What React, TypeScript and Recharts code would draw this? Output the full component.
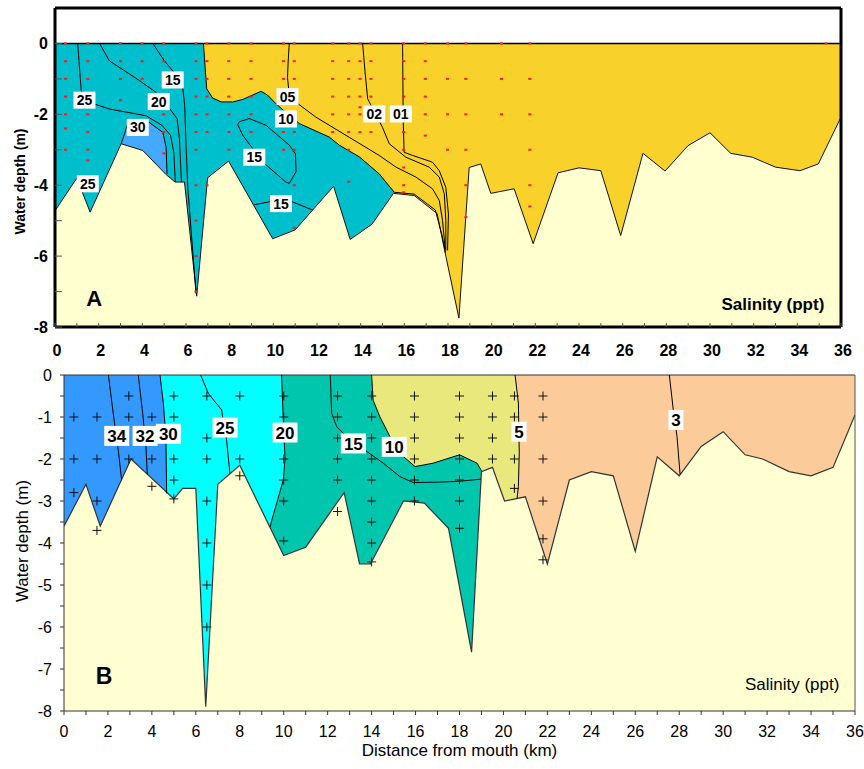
import React from "react"
import { ComposedChart, Area, Line, Scatter, XAxis, YAxis, ReferenceLine } from "recharts"

type Pt = [number, number]
type Tag = [number, number, string]

const FLOOR = -8
const kmTicks = Array.from({ length: 37 }, (_, i) => i)

// ---------- panel A: salinity section (ppt) ----------
const bedA: Pt[] = [
  [0, -4.72], [1.0, -3.8], [1.61, -4.76], [3.03, -2.83], [4.02, -3.02], [5.09, -3.7], [5.5, -3.91],
  [5.93, -3.91], [6.49, -7.13], [6.99, -3.79], [7.95, -3.32], [9.97, -5.51], [11.0, -5.26],
  [12.76, -4.03], [13.52, -5.53], [14.52, -5.1], [15.5, -4.23], [16.45, -4.29], [17.5, -4.8],
  [17.9, -6.0], [18.5, -7.75], [18.97, -3.5], [19.5, -3.4], [19.96, -4.23], [21.03, -4.1],
  [21.9, -5.65], [23.04, -3.65], [24.0, -3.51], [25.0, -3.59], [25.91, -5.42], [26.93, -3.1],
  [27.94, -3.6], [29.0, -2.88], [30.0, -2.52], [30.95, -3.1], [31.94, -3.21], [33.0, -3.49],
  [34.12, -3.59], [34.96, -3.4], [36, -2.08],
]
const c10A: Pt[] = [
  [6.8, 0], [6.89, -0.81], [6.95, -1.28], [7.22, -1.54], [7.61, -1.65], [8.14, -1.65], [8.6, -1.58],
  [9.44, -1.35], [9.74, -1.46], [10.12, -1.7], [10.58, -1.95], [11.19, -2.26], [12.56, -2.64],
  [13.02, -2.87], [13.94, -3.2], [14.85, -3.68], [15.54, -4.2],
]
const c10TailA: Pt[] = [[15.54, -4.2], [16.45, -4.25], [17.42, -4.7], [17.72, -5.4], [17.88, -5.9]]
const c05A: Pt[] = [
  [10.73, 0], [10.68, -0.5], [10.65, -0.96], [10.72, -1.4], [11.04, -1.66], [11.95, -2.08],
  [13.48, -2.65], [14.85, -3.16], [15.62, -3.49], [16.53, -3.77], [17.29, -4.1], [17.6, -4.43],
  [17.75, -4.99], [17.87, -5.8],
]
const c02A: Pt[] = [
  [14.09, 0], [14.2, -0.8], [14.32, -1.56], [15.0, -2.37], [15.31, -2.83], [16.07, -3.21],
  [17.14, -3.49], [17.6, -3.77], [17.83, -4.24], [17.9, -4.99], [17.9, -5.84],
]
const c01A: Pt[] = [
  [15.92, 0], [15.95, -2.18], [15.99, -3.07], [16.38, -3.16], [17.29, -3.35], [17.6, -3.59],
  [17.9, -4.06], [18.02, -4.81], [17.98, -5.84],
]
const c25A: Pt[] = [
  [1.04, 0], [1.2, -1.33], [1.5, -1.62], [1.81, -1.71], [2.49, -1.85], [4.17, -2.04], [4.9, -2.31],
  [5.29, -2.59], [5.44, -3.06], [5.51, -3.91],
]
const c20A: Pt[] = [
  [2.04, 0], [2.49, -0.49], [3.87, -1.05], [4.63, -1.38], [5.16, -1.76], [5.59, -2.12], [5.7, -2.69],
  [5.79, -3.91],
]
const c15A: Pt[] = [[4.48, 0], [5.01, -0.49], [5.82, -1.09], [5.94, -1.75], [6.0, -2.84], [6.08, -4.06], [6.46, -7.06]]
const c30A: Pt[] = [[3.03, -2.84], [3.33, -2.27], [3.79, -2.2], [4.32, -2.23], [4.94, -2.51], [5.09, -2.93], [5.13, -3.68]]
const loop15A: Pt[] = [
  [8.44, -2.21], [8.9, -2.12], [9.67, -2.31], [10.73, -2.87], [11.01, -3.11], [11.04, -3.62],
  [10.73, -3.95], [10.55, -3.9], [9.51, -3.34], [8.6, -2.59], [8.37, -2.29], [8.44, -2.21],
]
const low15A: Pt[] = [[9.13, -4.55], [9.97, -4.45], [10.88, -4.47], [11.8, -4.7]]

const stationsA: [number, number[]][] = [
  [0.48, [0, -0.5, -1, -1.5, -2, -2.4, -3]],
  [1.5, [0, -0.5, -1, -2, -2.5, -3, -3.3]],
  [3.0, [0, -0.5, -1, -1.6]],
  [3.99, [0, -0.5, -1]],
  [4.98, [0, -0.5, -1, -2, -2.5, -3.1]],
  [6.46, [0, -0.5, -1, -1.5, -2, -2.5, -3, -4, -5, -6, -7]],
  [6.96, [0, -0.5, -1, -1.5, -2, -2.5, -4]],
  [7.96, [0, -0.5, -1, -1.5, -2, -2.5, -3]],
  [8.98, [0, -0.5, -1, -1.5, -2, -2.5]],
  [10.47, [0, -0.5, -1, -2, -2.5, -3]],
  [10.96, [0, -0.5, -1, -1.5, -2, -2.5, -3, -4, -5.2]],
  [12.72, [0, -0.5, -1, -1.5, -2, -2.5]],
  [13.45, [0, -0.5, -1, -1.5, -2, -2.5, -3, -3.9]],
  [13.97, [0, -0.5, -1, -1.5, -1.8, -2, -2.5]],
  [14.47, [0, -0.5, -1, -1.5, -2, -2.5]],
  [15.97, [0, -0.5, -1, -1.5, -2, -2.5, -3, -3.5, -4, -4.2]],
  [16.96, [0, -0.5, -1, -1.5, -2, -2.6]],
  [17.98, [0, -1, -2, -3]],
  [18.82, [0, -1, -2, -3, -4, -4.9]],
  [20.45, [0, -1, -2]],
  [21.75, [0, -1, -2, -3, -4, -4.6]],
  [35.32, [0]],
]
const tagsA: Tag[] = [
  [1.35, -1.6, "25"], [4.75, -1.64, "20"], [5.39, -1.03, "15"], [3.79, -2.37, "30"], [1.5, -3.96, "25"],
  [10.65, -1.5, "05"], [10.58, -2.13, "10"], [9.13, -3.21, "15"], [10.35, -4.52, "15"],
  [14.62, -1.99, "02"], [15.84, -1.99, "01"],
]
const notesA: Tag[] = [[1.8, -7.19, "A"], [32.88, -7.36, "Salinity (ppt)"]]

// ---------- panel B ----------
const bedB: Pt[] = [
  [0, -3.6], [1, -2.6], [1.65, -3.6], [3.05, -2.0], [5, -2.95], [5.4, -2.7], [6.0, -2.7], [6.45, -7.9],
  [7.0, -2.6], [8, -2.15], [10, -4.3], [11, -4.1], [12.75, -2.8], [13.45, -4.5], [13.95, -4.5],
  [15.45, -3.0], [16.4, -3.05], [17.5, -3.65], [18.55, -6.6], [19.0, -2.3], [19.5, -2.2], [20.05, -3.0],
  [21.0, -2.9], [22.0, -4.5], [23.0, -2.5], [24.0, -2.3], [25.0, -2.4], [26.0, -4.2], [27.0, -1.95],
  [28.0, -2.4], [29.0, -1.7], [30.0, -1.35], [31.0, -1.9], [31.8, -2.0], [33.0, -2.3], [34.0, -2.4],
  [35.0, -2.2], [36.0, -0.95],
]
const c34B: Pt[] = [[2.02, 0], [2.24, -0.91], [2.47, -1.79], [2.62, -2.49]]
const c32B: Pt[] = [[3.38, 0], [3.58, -0.91], [3.73, -1.71], [3.79, -2.36]]
const c30B: Pt[] = [[4.37, 0], [4.52, -0.67], [4.64, -1.47], [4.67, -2.82]]
const c25B: Pt[] = [[6.22, 0], [6.57, -0.44], [7.17, -0.83], [7.4, -1.55], [7.55, -2.35]]
const c20B: Pt[] = [[9.9, 0], [9.98, -1.07], [10.06, -2.0], [9.98, -2.5], [9.68, -3.05], [9.47, -3.43], [9.38, -3.62]]
const c15B: Pt[] = [
  [12.12, 0], [12.18, -0.91], [12.41, -1.23], [12.87, -1.47], [13.7, -1.79], [14.53, -2.1], [15.29, -2.42],
  [15.9, -2.56], [17.1, -2.55], [18.0, -2.53], [18.97, -2.48],
]
const c10B: Pt[] = [
  [14.0, 0], [14.07, -0.6], [14.38, -1.0], [14.84, -1.47], [15.44, -1.94], [15.98, -2.18], [16.8, -2.1],
  [18.0, -1.9], [18.8, -2.1], [19.0, -2.28],
]
const c5B: Pt[] = [[20.53, 0], [20.68, -0.67], [20.72, -1.86], [20.68, -2.66], [20.62, -2.93]]
const c3B: Pt[] = [[27.55, 0], [27.73, -0.83], [27.9, -1.47], [28.04, -2.37]]

const stationsB: [number, number[]][] = [
  [0.45, [-1, -2, -2.8]],
  [1.5, [-1, -2, -3, -3.7]],
  [2.95, [-0.5, -1, -2]],
  [4.0, [-1, -2, -2.65]],
  [5.0, [-0.5, -1, -2, -2.5, -2.95]],
  [6.5, [-0.5, -1.5, -2, -3, -4, -5, -6]],
  [8.0, [-0.5, -2, -2.4]],
  [10.0, [-0.5, -1, -1.5, -2, -2.5, -3, -3.95]],
  [12.45, [-0.5, -1, -1.5, -2, -2.5, -3.25]],
  [14.0, [-0.5, -1, -1.5, -2, -2.5, -3, -3.5, -4, -4.45]],
  [15.95, [-0.5, -1, -1.5, -2, -2.5, -3]],
  [18.0, [-0.5, -1, -1.5, -2, -2.5, -3, -3.65]],
  [19.5, [-0.5, -1, -1.5, -2]],
  [20.5, [-0.5, -1, -2, -2.7]],
  [21.8, [-0.5, -1, -2, -3, -3.9, -4.4]],
]
const tagsB: Tag[] = [
  [2.4, -1.45, "34"], [3.69, -1.45, "32"], [4.75, -1.4, "30"], [7.33, -1.25, "25"], [10.06, -1.37, "20"],
  [13.17, -1.63, "15"], [15.03, -1.71, "10"], [20.71, -1.35, "5"], [27.85, -1.07, "3"],
]
const notesB: Tag[] = [[1.82, -7.17, "B"], [33.14, -7.36, "Salinity (ppt)"]]

// ---------- helpers ----------
const font = "'Liberation Sans', Arial, sans-serif"
const xy = (pts: Pt[]) => pts.map(([x, y]) => ({ x, y }))
const tags = (t: Tag[]) => t.map(([x, y, s]) => ({ x, y, t: s }))
const spread = (st: [number, number[]][]) => st.flatMap(([x, ds]) => ds.map((y) => ({ x, y })))
const leftOf = (edge: Pt[]): Pt[] => [[0, 0], ...edge, [edge[edge.length - 1][0], FLOOR], [0, FLOOR], [0, 0]]
const under = (bed: Pt[]): Pt[] => [...bed, [36, FLOOR], [0, FLOOR], bed[0]]
const blob = (edge: Pt[]): Pt[] => [...edge, [edge[edge.length - 1][0], FLOOR], [edge[0][0], FLOOR], edge[0]]
const waterBox: Pt[] = [[0, 0], [36, 0], [36, FLOOR], [0, FLOOR], [0, 0]]

const fill = (key: string, pts: Pt[], color: string) => (
  <Area key={key} data={xy(pts)} dataKey="y" type="linear" stroke="none" fill={color} fillOpacity={1}
    dot={false} activeDot={false} isAnimationActive={false} />
)
const line = (key: string, pts: Pt[], color = "#000", w = 1) => (
  <Line key={key} data={xy(pts)} dataKey="y" type="linear" stroke={color} strokeWidth={w}
    dot={false} activeDot={false} isAnimationActive={false} />
)

const boxShape = (size: number, h: number, cw: number) => (p: any) => {
  const t: string = p.payload.t
  const w = t.length * cw + 5
  return (
    <g>
      <rect x={p.cx - w / 2} y={p.cy - h / 2} width={w} height={h} fill="#fff" />
      <text x={p.cx} y={p.cy} dy="0.36em" textAnchor="middle" fontFamily={font} fontWeight="bold" fontSize={size}>{t}</text>
    </g>
  )
}
const noteShape = (big: number, small: number, weight: string) => (p: any) => {
  const t: string = p.payload.t
  return (
    <text x={p.cx} y={p.cy} dy="0.36em" textAnchor="middle" fontFamily={font} fontWeight={t.length === 1 ? "bold" : weight}
      fontSize={t.length === 1 ? big : small}>{t}</text>
  )
}
const redDot = (p: any) => <rect x={p.cx - 1.5} y={p.cy - 1} width={3} height={2} fill="#ff1a1a" />
const plus = (p: any) => <path d={`M${p.cx - 4.5},${p.cy}h9M${p.cx},${p.cy - 4.5}v9`} stroke="#111" strokeWidth={1} />

const TickAX = (p: any) => {
  const v = p.payload.value
  return (
    <g>
      <line x1={p.x} x2={p.x} y1={p.y} y2={p.y - 4} stroke="#555" />
      {v % 2 === 0 && (
        <text x={p.x + 2} y={p.y + 29} textAnchor="middle" fontFamily={font} fontWeight="bold" fontSize={16}>{v}</text>
      )}
    </g>
  )
}
const TickAY = (p: any) => {
  const v = p.payload.value
  return (
    <g>
      <line x1={p.x} x2={p.x + 7} y1={p.y} y2={p.y} stroke="#555" />
      {v % 2 === 0 && (
        <text x={p.x - 7} y={p.y} dy="0.36em" textAnchor="end" fontFamily={font} fontWeight="bold" fontSize={16}>{v}</text>
      )}
    </g>
  )
}
const yTitle = (text: string, dx: number, dy: number, size: number, weight: string) => (p: any) => {
  const vb = p.viewBox || { x: 0, y: 0, width: 0, height: 0 }
  const cx = vb.x + dx
  const cy = vb.y + vb.height / 2 + dy
  return (
    <text x={cx} y={cy} transform={`rotate(-90 ${cx} ${cy})`} textAnchor="middle" dominantBaseline="central"
      fontFamily={font} fontWeight={weight} fontSize={size}>{text}</text>
  )
}
const xTitle = (p: any) => {
  const vb = p.viewBox || { x: 0, y: 0, width: 0, height: 0 }
  return (
    <text x={vb.x + vb.width / 2} y={vb.y + 45} textAnchor="middle" fontFamily={font} fontSize={17}>
      Distance from mouth (km)
    </text>
  )
}

function PanelA() {
  return (
    <ComposedChart width={864} height={365} margin={{ top: 8, right: 23, left: 0, bottom: 0 }}>
      <XAxis type="number" dataKey="x" domain={[0, 36]} ticks={kmTicks} interval={0} allowDataOverflow
        height={38} tickSize={0} tickMargin={0} tickLine={false} tick={<TickAX />}
        axisLine={{ stroke: "#000", strokeWidth: 3 }} />
      <YAxis type="number" dataKey="y" domain={[-8, 1]} ticks={[0, -1, -2, -3, -4, -5, -6, -7, -8]} interval={0}
        allowDataOverflow width={55} tickSize={0} tickMargin={0} tickLine={false} tick={<TickAY />}
        axisLine={{ stroke: "#000", strokeWidth: 3 }}
        label={yTitle("Water depth (m)", 20, 14, 14, "bold")} />
      {fill("gold", waterBox, "#F9D12B")}
      {fill("teal", leftOf(c10A), "#00BFCC")}
      {fill("blob", blob(c30A), "#44AAFF")}
      {fill("bed", under(bedA), "#FFFFD0")}
      {line("bedline", bedA, "#111")}
      {line("c25", c25A)}
      {line("c20", c20A)}
      {line("c15", c15A)}
      {line("c30", c30A)}
      {line("loop15", loop15A)}
      {line("low15", low15A)}
      {line("c10", c10A)}
      {line("c10tail", c10TailA)}
      {line("c05", c05A)}
      {line("c02", c02A)}
      {line("c01", c01A)}
      <ReferenceLine y={0} stroke="#000" strokeWidth={1.5} />
      <ReferenceLine y={1} stroke="#000" strokeWidth={3} />
      <ReferenceLine x={36} stroke="#000" strokeWidth={3} />
      <Scatter data={spread(stationsA)} shape={redDot} isAnimationActive={false} />
      <Scatter data={tags(tagsA)} shape={boxShape(14, 17, 8.5)} isAnimationActive={false} />
      <Scatter data={tags(notesA)} shape={noteShape(22, 17, "bold")} isAnimationActive={false} />
    </ComposedChart>
  )
}

function PanelB() {
  const halfMetres = Array.from({ length: 17 }, (_, i) => -i / 2)
  return (
    <ComposedChart width={864} height={409} margin={{ top: 15, right: 9, left: 0, bottom: 0 }}>
      <XAxis type="number" dataKey="x" domain={[0, 36]} ticks={kmTicks} interval={0} allowDataOverflow
        height={58} tickSize={4} tickMargin={11} stroke="#333"
        tickFormatter={(v: number) => (v % 2 === 0 ? String(v) : "")}
        tick={{ fill: "#000", fontSize: 16, fontFamily: font }} label={xTitle} />
      <YAxis type="number" dataKey="y" domain={[-8, 0]} ticks={halfMetres} interval={0} allowDataOverflow
        width={64} tickSize={4} tickMargin={8} stroke="#333"
        tickFormatter={(v: number) => (Number.isInteger(v) ? String(v) : "")}
        tick={{ fill: "#000", fontSize: 16, fontFamily: font }}
        label={yTitle("Water depth (m)", 22, -2, 17, "normal")} />
      {fill("peach", waterBox, "#FCCB9A")}
      {fill("lime", leftOf(c5B), "#E8E87C")}
      {fill("teal", leftOf(c10B), "#00C6AE")}
      {fill("cyan", leftOf(c20B), "#00FFFF")}
      {fill("blue", leftOf(c30B), "#3399FF")}
      {fill("bed", under(bedB), "#FFFFD2")}
      {line("bedline", bedB, "#333", 1.2)}
      {line("c34", c34B)}
      {line("c32", c32B)}
      {line("c30", c30B)}
      {line("c25", c25B)}
      {line("c20", c20B)}
      {line("c15", c15B)}
      {line("c10", c10B)}
      {line("c5", c5B)}
      {line("c3", c3B)}
      <ReferenceLine y={0} stroke="#333" strokeWidth={1} />
      <ReferenceLine x={36} stroke="#555" strokeWidth={1} />
      <Scatter data={spread(stationsB)} shape={plus} isAnimationActive={false} />
      <Scatter data={tags(tagsB)} shape={boxShape(17, 20, 10)} isAnimationActive={false} />
      <Scatter data={tags(notesB)} shape={noteShape(23, 17, "normal")} isAnimationActive={false} />
    </ComposedChart>
  )
}

export default function App() {
  return (
    <div style={{ position: "absolute", left: 0, top: 0, width: 864, height: 769, background: "#fff" }}>
      <div style={{ position: "absolute", left: 0, top: 0 }}>
        <PanelA />
      </div>
      <div style={{ position: "absolute", left: 0, top: 360 }}>
        <PanelB />
      </div>
    </div>
  )
}
